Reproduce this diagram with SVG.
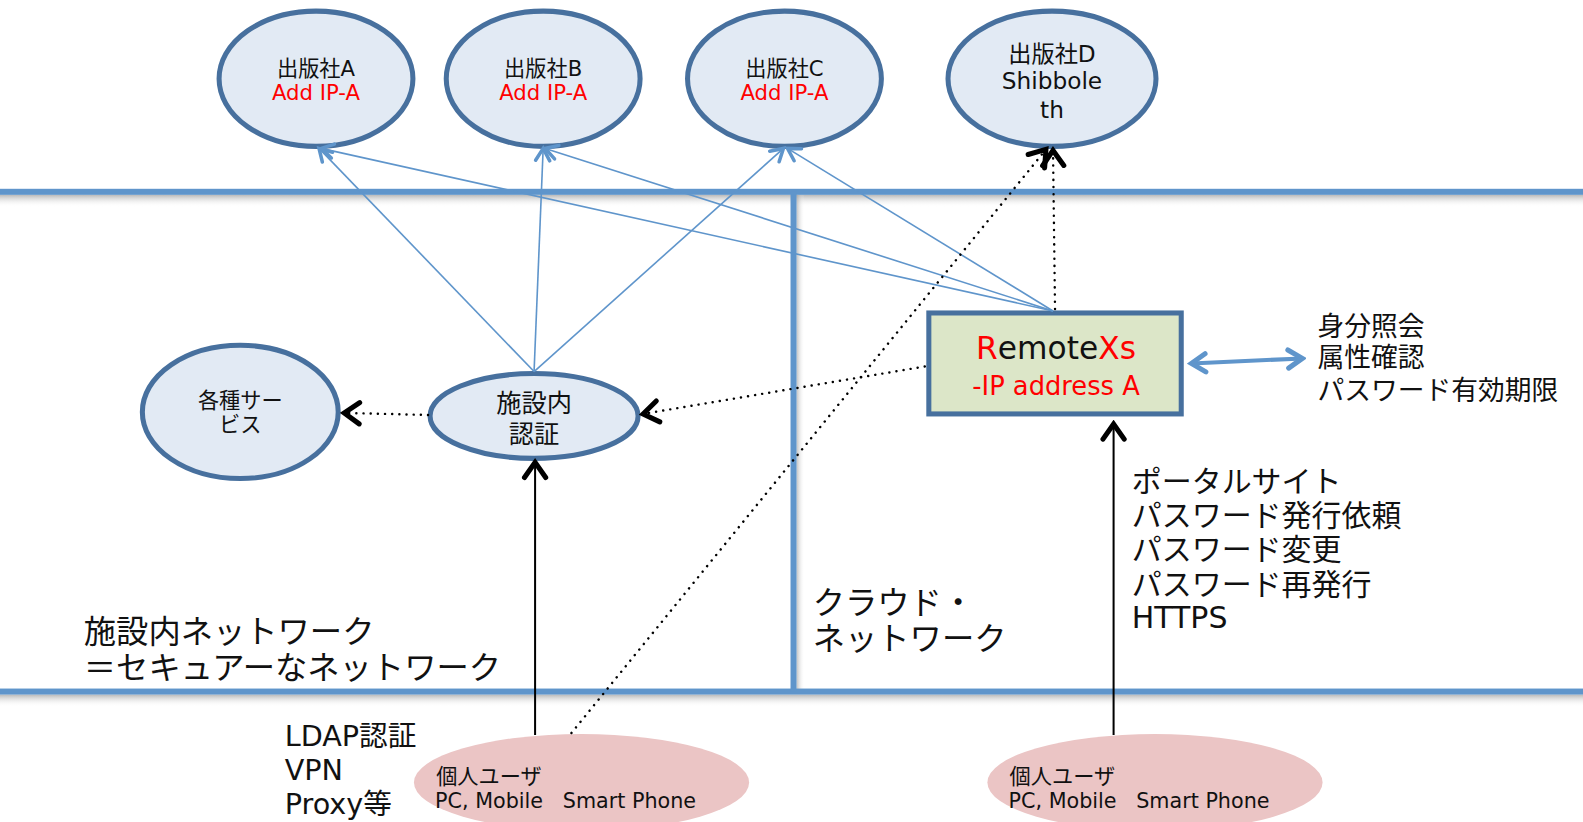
<svg xmlns="http://www.w3.org/2000/svg" width="1583" height="822" viewBox="0 0 1583 822">
<style>
.t{font-family:"DejaVu Sans","Noto Sans CJK JP",sans-serif;fill:#111}
.c{text-anchor:middle}
.r{fill:#FF0000}
.node{fill:#E2EAF4;stroke:#47709E;stroke-width:5}
.user{fill:#EBC5C5;stroke:none}
.blue{stroke:#5F95CB;stroke-width:1.6;fill:none;marker-end:url(#ab)}
.dot{stroke:#000;stroke-width:2.4;fill:none;stroke-dasharray:0.1 7;stroke-linecap:round;marker-end:url(#ak)}
.sol{stroke:#000;stroke-width:2;fill:none;marker-end:url(#ak)}
.band{fill:#5F95CB}
</style>
<defs>
<marker id="ak" markerUnits="userSpaceOnUse" viewBox="-20 -15 24 30" markerWidth="24" markerHeight="30" refX="0" refY="0" orient="auto">
<path d="M-15,-10.5 L0,0 L-15,10.5" fill="none" stroke="#000" stroke-width="5" stroke-linecap="round" stroke-linejoin="miter"/>
</marker>
<marker id="ab" markerUnits="userSpaceOnUse" viewBox="-16 -11 20 22" markerWidth="20" markerHeight="22" refX="0" refY="0" orient="auto">
<path d="M-12,-7 L0,0 L-12,7" fill="none" stroke="#5F95CB" stroke-width="3.5" stroke-linecap="round"/>
</marker>
<marker id="abt" markerUnits="userSpaceOnUse" viewBox="-18 -13 22 26" markerWidth="22" markerHeight="26" refX="0" refY="0" orient="auto-start-reverse">
<path d="M-14,-9 L0,0 L-14,9" fill="none" stroke="#5F95CB" stroke-width="5" stroke-linecap="round"/>
</marker>
<linearGradient id="sh" x1="0" y1="0" x2="0" y2="1">
<stop offset="0" stop-color="#9a9a9a" stop-opacity="0.7"/>
<stop offset="1" stop-color="#ffffff" stop-opacity="0"/>
</linearGradient>
<linearGradient id="shv" x1="0" y1="0" x2="1" y2="0">
<stop offset="0" stop-color="#9a9a9a" stop-opacity="0.6"/>
<stop offset="1" stop-color="#ffffff" stop-opacity="0"/>
</linearGradient>
</defs>
<rect width="1583" height="822" fill="#fff"/>
<g transform="scale(1.0096)">

<g id="boundaries">
<rect x="0" y="193" width="1568" height="12" fill="url(#sh)"/>
<rect x="0" y="688" width="1568" height="12" fill="url(#sh)"/>
<rect x="789" y="193" width="8" height="492" fill="url(#shv)"/>
<rect class="band" x="0" y="187" width="1568" height="6"/>
<rect class="band" x="0" y="682" width="1568" height="6"/>
<rect class="band" x="783" y="190" width="6" height="495"/>
</g>

<g id="pubA"><ellipse class="node" cx="313" cy="78" rx="96" ry="67"/>
<text class="t c" x="313" y="75" font-size="21">出版社A</text>
<text class="t c r" x="313" y="99" font-size="21">Add IP-A</text></g>
<g id="pubB"><ellipse class="node" cx="538" cy="78" rx="96" ry="67"/>
<text class="t c" x="538" y="75" font-size="21">出版社B</text>
<text class="t c r" x="538" y="99" font-size="21">Add IP-A</text></g>
<g id="pubC"><ellipse class="node" cx="777" cy="78" rx="96" ry="67"/>
<text class="t c" x="777" y="75" font-size="21">出版社C</text>
<text class="t c r" x="777" y="99" font-size="21">Add IP-A</text></g>
<g id="pubD"><ellipse class="node" cx="1042" cy="78" rx="103" ry="67"/>
<text class="t c" x="1042" y="61" font-size="23">出版社D</text>
<text class="t c" x="1042" y="88" font-size="23">Shibbole</text>
<text class="t c" x="1042" y="117" font-size="23">th</text></g>

<g id="services"><ellipse class="node" cx="238" cy="408" rx="97" ry="66"/>
<text class="t c" x="238" y="404" font-size="21">各種サー</text>
<text class="t c" x="238" y="428" font-size="21">ビス</text></g>

<g id="auth"><ellipse class="node" cx="529" cy="412" rx="103" ry="42"/>
<text class="t c" x="529" y="408" font-size="25">施設内</text>
<text class="t c" x="529" y="439" font-size="25">認証</text></g>

<g id="remotexs"><rect x="920" y="310" width="250" height="100" fill="#DCE6C8" stroke="#47709E" stroke-width="5"/>
<text class="t c" x="1046" y="356" font-size="31"><tspan class="r">R</tspan>emote<tspan class="r">Xs</tspan></text>
<text class="t c r" x="1046" y="391" font-size="25.5">-IP address A</text></g>

<g id="user1"><ellipse class="user" cx="576" cy="775" rx="166" ry="48"/>
<text class="t" x="432" y="777" font-size="21">個人ユーザ</text>
<text class="t" x="431" y="800" font-size="20.5" xml:space="preserve">PC, Mobile   Smart Phone</text></g>
<g id="user2"><ellipse class="user" cx="1144" cy="775" rx="166" ry="48"/>
<text class="t" x="1000" y="777" font-size="21">個人ユーザ</text>
<text class="t" x="999" y="800" font-size="20.5" xml:space="preserve">PC, Mobile   Smart Phone</text></g>

<g id="labels">
<text class="t" x="1305" y="333" font-size="26.5">身分照会</text>
<text class="t" x="1305" y="364" font-size="26.5">属性確認</text>
<text class="t" x="1305" y="396" font-size="26.5">パスワード有効期限</text>
<text class="t" x="1121" y="487" font-size="29.7">ポータルサイト</text>
<text class="t" x="1121" y="521" font-size="29.7">パスワード発行依頼</text>
<text class="t" x="1121" y="555" font-size="29.7">パスワード変更</text>
<text class="t" x="1121" y="589" font-size="29.7">パスワード再発行</text>
<text class="t" x="1121" y="622" font-size="29.7">HTTPS</text>
<text class="t" x="83" y="637" font-size="32">施設内ネットワーク</text>
<text class="t" x="83" y="673" font-size="32">＝セキュアーなネットワーク</text>
<text class="t" x="805" y="608" font-size="32">クラウド・</text>
<text class="t" x="805" y="644" font-size="32">ネットワーク</text>
<text class="t" x="282" y="739" font-size="28.4">LDAP認証</text>
<text class="t" x="282" y="773" font-size="28.4">VPN</text>
<text class="t" x="282" y="806" font-size="28.4">Proxy等</text>
</g>

<g id="connectors">
<line class="blue" x1="529" y1="368" x2="316" y2="147"/>
<line class="blue" x1="529" y1="368" x2="538" y2="147"/>
<line class="blue" x1="529" y1="368" x2="776" y2="147"/>
<line class="blue" x1="1043" y1="308" x2="318" y2="147"/>
<line class="blue" x1="1043" y1="308" x2="540" y2="147"/>
<line class="blue" x1="1043" y1="308" x2="780" y2="147"/>
<line class="dot" x1="916" y1="363" x2="637" y2="410"/>
<line class="dot" x1="424" y1="411" x2="341" y2="409"/>
<line class="dot" x1="566" y1="726" x2="1036" y2="148"/>
<line class="dot" x1="1045" y1="306" x2="1043" y2="149"/>
<line class="sol" x1="530" y1="728" x2="530" y2="458"/>
<line class="sol" x1="1103" y1="728" x2="1103" y2="420"/>
<line x1="1180" y1="360" x2="1290" y2="355" stroke="#5F95CB" stroke-width="4" marker-start="url(#abt)" marker-end="url(#abt)"/>
</g>
</g>
</svg>
